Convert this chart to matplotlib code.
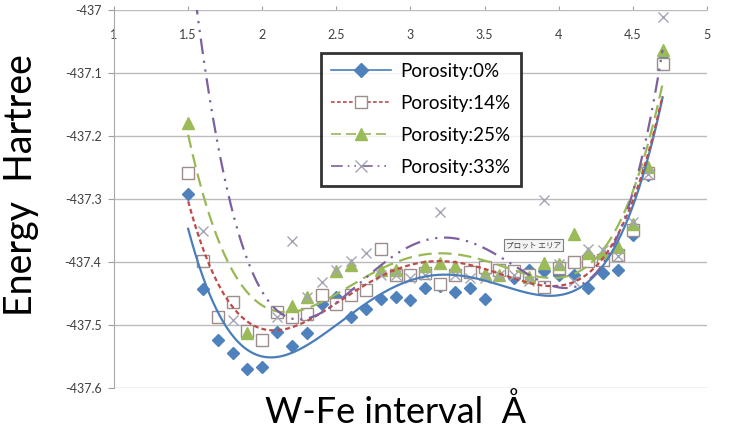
import numpy as np
import matplotlib
matplotlib.use("Agg")
import matplotlib.pyplot as plt
from matplotlib.lines import Line2D

nan = np.nan

# W-Fe interval (Angstrom)
x_vals = [1.5, 1.6, 1.7, 1.8, 1.9, 2.0, 2.1, 2.2, 2.3, 2.4, 2.5, 2.6, 2.7, 2.8,
          2.9, 3.0, 3.1, 3.2, 3.3, 3.4, 3.5, 3.6, 3.7, 3.8, 3.9, 4.0, 4.1, 4.2,
          4.3, 4.4, 4.5, 4.6, 4.7]

# Energy (Hartree) per porosity
por0 = [-437.292, -437.443, -437.523, -437.545, -437.570, -437.567, -437.511,
        -437.533, -437.512, -437.466, -437.455, -437.488, -437.475, -437.459,
        -437.456, -437.460, -437.442, -437.438, -437.447, -437.441, -437.459,
        -437.412, -437.425, -437.412, -437.415, -437.420, -437.421, -437.442,
        -437.417, -437.413, -437.357, -437.262, -437.078]
por14 = [-437.258, -437.398, -437.488, -437.464, -437.510, -437.524, -437.480,
         -437.488, -437.483, -437.453, -437.467, -437.453, -437.444, -437.380,
         -437.421, -437.420, -437.417, -437.435, -437.420, -437.416, -437.408,
         -437.413, -437.414, -437.420, -437.440, -437.410, -437.400, -437.398,
         -437.397, -437.389, -437.349, -437.259, -437.085]
por25 = [-437.179, nan, nan, nan, -437.513, nan, nan,
         -437.470, -437.456, nan, -437.414, -437.405, nan, -437.412,
         -437.412, nan, -437.406, -437.402, -437.407, nan, -437.419,
         -437.421, nan, -437.424, -437.402, -437.403, -437.356, -437.386,
         -437.385, -437.376, -437.339, -437.249, -437.063]
por33 = [-436.600, -437.350, nan, -437.492, nan, nan, -437.488,
         -437.367, -437.455, -437.431, -437.412, -437.398, -437.386, -437.420,
         -437.420, -437.425, -437.420, -437.320, -437.420, -437.425, -437.425,
         -437.420, -437.420, -437.430, -437.302, -437.403, -437.430, -437.380,
         -437.381, -437.390, -437.336, -437.260, -437.011]

labels = ["Porosity:0%", "Porosity:14%", "Porosity:25%", "Porosity:33%"]
x_ticks = [1, 1.5, 2, 2.5, 3, 3.5, 4, 4.5, 5]
x_ticklabels = ["1", "1.5", "2", "2.5", "3", "3.5", "4", "4.5", "5"]
y_ticks = [-437.6, -437.5, -437.4, -437.3, -437.2, -437.1, -437.0]
y_ticklabels = ["-437.6", "-437.5", "-437.4", "-437.3", "-437.2", "-437.1", "-437"]
trend_order = 4

plt.rcParams["font.family"] = ["Lato", "DejaVu Sans"]

fig = plt.figure(figsize=(7.29, 4.37), dpi=100)
ax = fig.add_axes([0.1564, 0.1121, 0.8134, 0.8650])

styles = [
    dict(line="#4a7ebb", ls="-", marker="D", mfc="#4f81bd", mec="#4f81bd", ms=6),
    dict(line="#be4b48", ls=(0, (2.2, 1.4)), marker="s", mfc="white", mec="#9c8c8c", ms=8),
    dict(line="#98b954", ls=(0, (6, 3)), marker="^", mfc="#9bbb59", mec="#9bbb59", ms=8),
    dict(line="#7d60a0", ls=(0, (7, 3, 1, 3, 1, 3)), marker="x", mfc="none", mec="#a4a4b4", ms=7),
]

xs = np.array(x_vals)
xf = np.linspace(1.5, 4.7, 400)
handles = []
for series, st, lab in zip([por0, por14, por25, por33], styles, labels):
    ys = np.array(series, dtype=float)
    m = ~np.isnan(ys)
    ax.plot(xs[m], ys[m], linestyle="none", marker=st["marker"], mfc=st["mfc"],
            mec=st["mec"], ms=st["ms"], mew=1.0, zorder=3, clip_on=True)
    coef = np.polyfit(xs[m], ys[m], trend_order)
    ax.plot(xf, np.polyval(coef, xf), color=st["line"], ls=st["ls"], lw=1.6, zorder=4)
    handles.append(Line2D([], [], color=st["line"], ls=st["ls"], lw=1.2,
                          marker=st["marker"], mfc=st["mfc"], mec=st["mec"],
                          ms=st["ms"] + 1, mew=1.0))

ax.set_xlim(1, 5)
ax.set_ylim(-437.6, -437.0)
ax.set_yticks(y_ticks)
ax.set_yticklabels(y_ticklabels)
ax.set_xticks(x_ticks)
ax.set_xticklabels(x_ticklabels)
ax.xaxis.set_ticks_position("top")
ax.tick_params(axis="x", direction="out", length=3, color="#a0a0a0",
               labelsize=9, labelcolor="#404040", pad=-25)
ax.tick_params(axis="y", direction="out", length=4, color="#a0a0a0",
               labelsize=9, labelcolor="#404040", pad=5)
ax.grid(axis="y", color="#bcbcbc", lw=1.0)
ax.set_axisbelow(True)
for s in ["right", "bottom", "top"]:
    ax.spines[s].set_visible(False)
ax.spines["left"].set_color("#a8a8a8")

leg = ax.legend(handles, labels, loc="upper left", bbox_to_anchor=(0.333, 0.912),
                fontsize=13.5, frameon=True, fancybox=False, handlelength=3.2,
                handletextpad=0.5, labelspacing=0.8, borderpad=0.55)
leg.get_frame().set_edgecolor("black")
leg.get_frame().set_linewidth(2.0)
leg.set_zorder(10)

ax.text(0.661, 0.378, "プロット エリア", transform=ax.transAxes, fontsize=5.5,
        family=["Noto Sans CJK JP", "DejaVu Sans"], va="center", ha="left",
        color="#404040",
        bbox=dict(boxstyle="square,pad=0.25", fc="#f4f4f4", ec="#808080", lw=0.8))

ax.set_xlabel("W-Fe interval  Å", fontsize=26)
ax.xaxis.set_label_position("bottom")
ax.xaxis.set_label_coords(0.4755, -0.015)
ax.set_ylabel("Energy  Hartree", fontsize=27)
ax.yaxis.set_label_coords(-0.126, 0.537)

fig.savefig("out.png", dpi=100)
